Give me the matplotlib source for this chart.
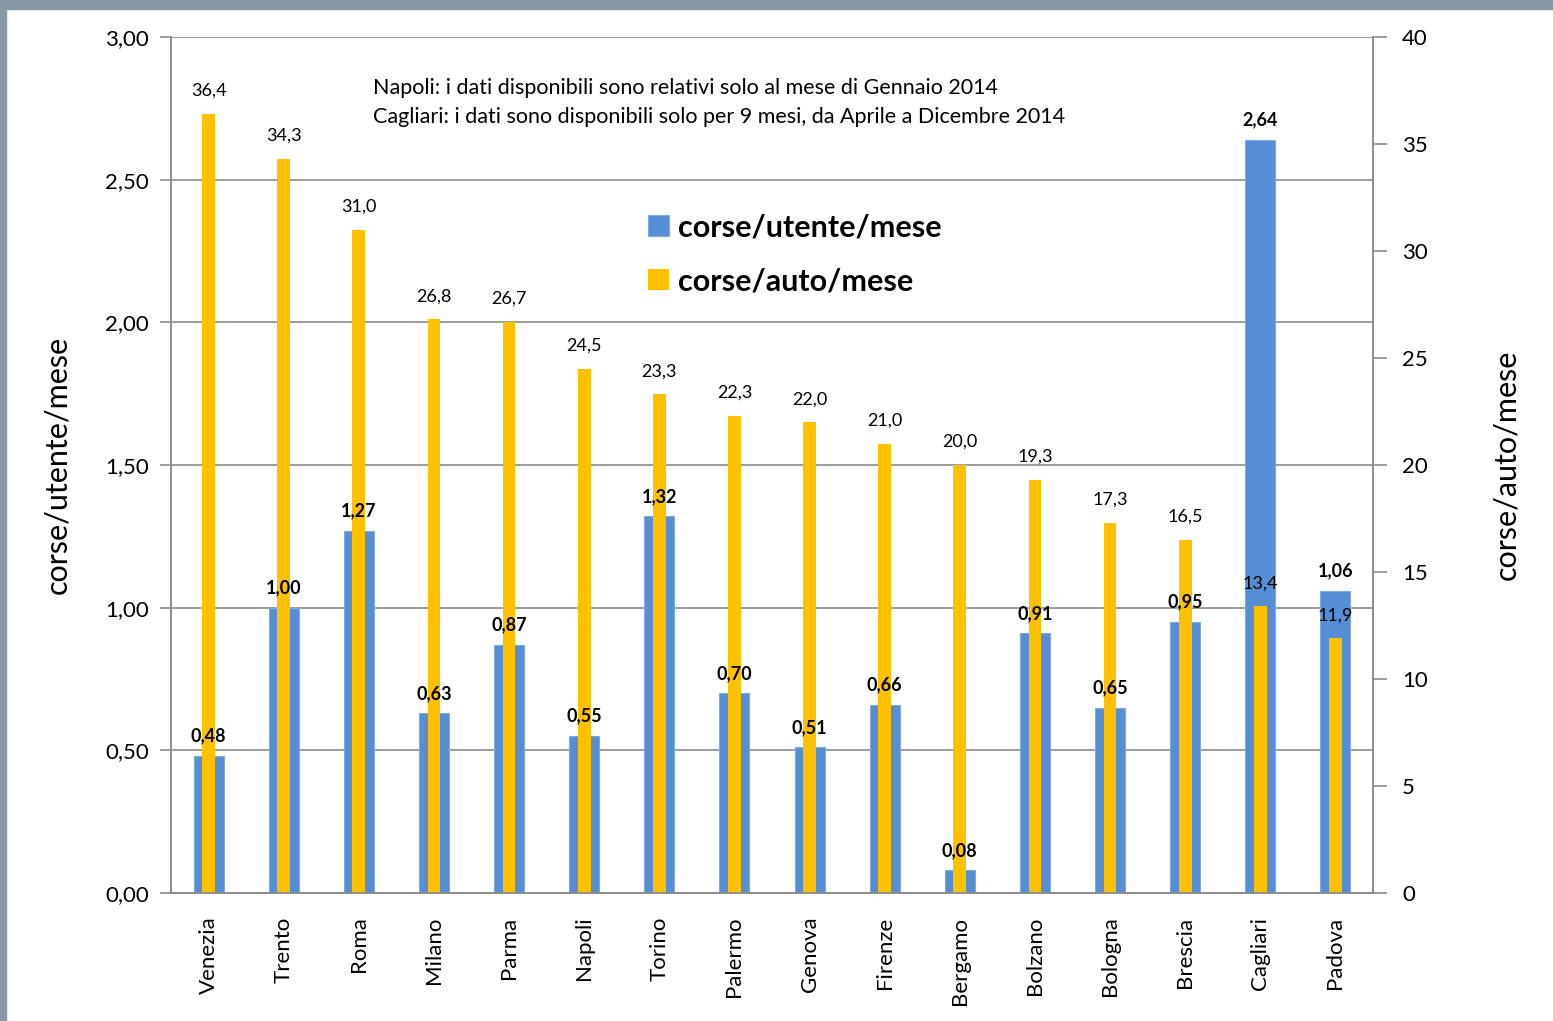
import matplotlib.pyplot as plt
from matplotlib.patches import Rectangle
import numpy as np

plt.rcParams["font.family"] = ["Lato", "DejaVu Sans"]

cities = ["Venezia", "Trento", "Roma", "Milano", "Parma", "Napoli", "Torino",
          "Palermo", "Genova", "Firenze", "Bergamo", "Bolzano", "Bologna",
          "Brescia", "Cagliari", "Padova"]
corse_utente = [0.48, 1.00, 1.27, 0.63, 0.87, 0.55, 1.32, 0.70, 0.51, 0.66,
                0.08, 0.91, 0.65, 0.95, 2.64, 1.06]
corse_auto = [36.4, 34.3, 31.0, 26.8, 26.7, 24.5, 23.3, 22.3, 22.0, 21.0,
              20.0, 19.3, 17.3, 16.5, 13.4, 11.9]
left_ticks = [0, 0.5, 1.0, 1.5, 2.0, 2.5, 3.0]
right_ticks = [0, 5, 10, 15, 20, 25, 30, 35, 40]
notes = ["Napoli: i dati disponibili sono relativi solo al mese di Gennaio 2014",
         "Cagliari: i dati sono disponibili solo per 9 mesi, da Aprile a Dicembre 2014"]

blue = "#558ED5"
yellow = "#FFC000"
grid_col = "#8C8C8C"


def it(v, d):
    return f"{v:.{d}f}".replace(".", ",")


fig = plt.figure(figsize=(15.53, 10.21), dpi=100)
ax = fig.add_axes([171 / 1553, 1 - 893 / 1021, 1202 / 1553, 856 / 1021])
ax2 = ax.twinx()

x = np.arange(len(cities))
ax.bar(x, corse_utente, width=0.4, color=blue, edgecolor="#7FA9E0",
       linewidth=0.8, label="corse/utente/mese", zorder=2)
ax2.bar(x, corse_auto, width=0.17, color=yellow, label="corse/auto/mese",
        zorder=2)

ax.set_xlim(-0.5, len(cities) - 0.5)
ax.set_ylim(0, 3)
ax2.set_ylim(0, 40)
ax.set_yticks(left_ticks)
ax.set_yticklabels([it(v, 2) for v in left_ticks])
ax2.set_yticks(right_ticks)
ax2.set_yticklabels([str(v) for v in right_ticks])
ax.set_xticks(x)
ax.set_xticklabels(cities, rotation=90, fontsize=16)

ax.set_axisbelow(True)
ax.yaxis.grid(True, color=grid_col, linewidth=1.2)
for a in (ax, ax2):
    for s in a.spines.values():
        s.set_color(grid_col)
        s.set_linewidth(1.2)
    a.spines["top"].set_visible(False)
ax.tick_params(axis="y", labelsize=16, length=8, width=1.2, color=grid_col, pad=8)
ax2.tick_params(axis="y", labelsize=16, length=10, width=1.2, color=grid_col, pad=11)
ax.tick_params(axis="x", length=0, pad=17)

ax.set_ylabel("corse/utente/mese", fontsize=22, labelpad=24)
ax2.set_ylabel("corse/auto/mese", fontsize=22, labelpad=46)

# data labels (drawn on ax2 so they sit above all bars)
for xi, v in zip(x, corse_utente):
    ax2.text(xi, v + 0.04, it(v, 2), transform=ax.transData, ha="center",
             va="bottom", fontsize=13, fontweight="bold")
for xi, v in zip(x, corse_auto):
    ax2.text(xi, v + 0.7, it(v, 1), ha="center", va="bottom", fontsize=13)

ax2.text(373 / 1553, 1 - 88 / 1021, notes[0], transform=fig.transFigure,
         fontsize=15.5, va="center", ha="left")
ax2.text(373 / 1553, 1 - 117 / 1021, notes[1], transform=fig.transFigure,
         fontsize=15.5, va="center", ha="left")

h1, l1 = ax.get_legend_handles_labels()
h2, l2 = ax2.get_legend_handles_labels()
ax2.legend(h1 + h2, l1 + l2, loc="upper left",
           bbox_to_anchor=(620 / 1553, 1 - 186 / 1021),
           bbox_transform=fig.transFigure, frameon=False,
           prop={"size": 22, "weight": "bold"}, handlelength=0.7,
           handleheight=0.7, handletextpad=0.3, labelspacing=0.85)

# grey frame strips
fig.patches.append(Rectangle((0, 1 - 9 / 1021), 1, 9 / 1021,
                             transform=fig.transFigure, color="#8799A5"))
fig.patches.append(Rectangle((0, 0), 6 / 1553, 1,
                             transform=fig.transFigure, color="#8799A5"))

fig.savefig("out.png", dpi=100)
